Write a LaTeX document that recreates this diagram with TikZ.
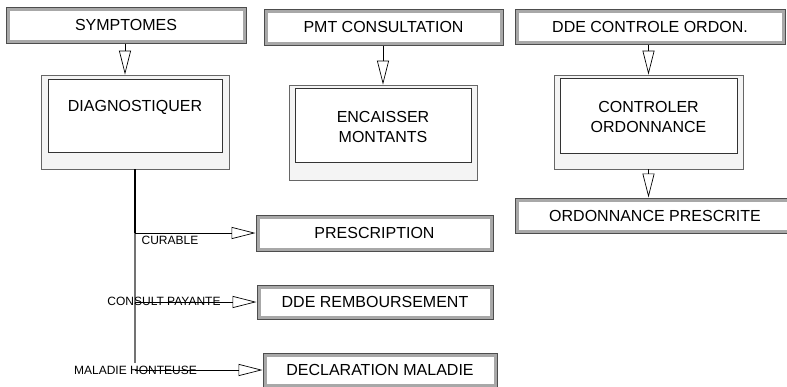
\documentclass[tikz,border=0pt]{standalone}
\usepackage{fontspec}
\setmainfont{Liberation Sans}
\usetikzlibrary{arrows.meta}
\definecolor{evdark}{HTML}{4D4D4D}
\definecolor{evband}{HTML}{A8A8A8}
\definecolor{prfill}{HTML}{F4F4F4}
\definecolor{prline}{HTML}{666666}
\tikzset{
  eventbox/.style={draw=evdark, line width=1pt, fill=evband, inner sep=0pt,
    font=\fontsize{16}{19.5}\selectfont,
    path picture={\fill[white] ([shift={(3.5pt,-3.5pt)}]path picture bounding box.north west) rectangle ([shift={(-3.5pt,3.5pt)}]path picture bounding box.south east);}},
  procouter/.style={draw=prline, line width=0.8pt, fill=prfill, inner sep=0pt},
  procinner/.style={draw=black!80, line width=0.8pt, fill=white, inner sep=0pt},
  boxtext/.style={font=\fontsize{16}{19.5}\selectfont, align=center, inner sep=0pt},
  lbl/.style={font=\fontsize{12}{14}\selectfont, inner sep=0pt},
  arr/.style={draw=black, line width=0.7pt, -{Triangle[open, length=24pt, width=12pt, line width=0.7pt]}}
}
\begin{document}
\begin{tikzpicture}[x=1pt,y=-1pt]
\useasboundingbox (0,0) rectangle (787,386);
\clip (0,0) rectangle (787,386);
% column 1
\node[eventbox, minimum width=240pt, minimum height=36pt] (symp) at (126,25) {SYMPTOMES};
\node[procouter, minimum width=188pt, minimum height=94pt] (diagO) at (135,122) {};
\node[procinner, minimum width=174pt, minimum height=73pt] (diagI) at (135,115.5) {};
\node[boxtext] (diagT) at (135,107) {DIAGNOSTIQUER};
\coordinate (a1) at (125,0);
\draw[arr] (symp.south -| a1) -- (diagO.north -| a1);
% column 2
\node[eventbox, minimum width=239pt, minimum height=36pt] (pmt) at (383.5,27) {PMT CONSULTATION};
\node[procouter, minimum width=188pt, minimum height=95pt] (encO) at (383,132.5) {};
\node[procinner, minimum width=176pt, minimum height=74pt] (encI) at (383,125) {};
\node[boxtext] (encT) at (383,127) {ENCAISSER\\MONTANTS};
\coordinate (a2) at (383,0);
\draw[arr] (pmt.south -| a2) -- (encO.north -| a2);
% column 3
\node[eventbox, minimum width=270pt, minimum height=35pt] (dde) at (650,26.5) {DDE CONTROLE ORDON.};
\node[procouter, minimum width=189pt, minimum height=94pt] (ctlO) at (648.5,122) {};
\node[procinner, minimum width=177pt, minimum height=75pt] (ctlI) at (648.5,115.5) {};
\node[boxtext] (ctlT) at (648.5,117) {CONTROLER\\ORDONNANCE};
\node[eventbox, minimum width=280pt, minimum height=35pt] (ord) at (655,215.5) {ORDONNANCE PRESCRITE};
\coordinate (a3) at (648.5,0);
\draw[arr] (dde.south -| a3) -- (ctlO.north -| a3);
\draw[arr] (ctlO.south -| a3) -- (ord.north -| a3);
% outputs of DIAGNOSTIQUER
\node[eventbox, minimum width=237pt, minimum height=36pt] (presc) at (374.5,233) {PRESCRIPTION};
\node[eventbox, minimum width=236pt, minimum height=34pt] (remb) at (375,302) {DDE REMBOURSEMENT};
\node[eventbox, minimum width=234pt, minimum height=34pt] (decl) at (380,370) {DECLARATION MALADIE};
\coordinate (trunk) at (135,0);
\coordinate (tmid) at (135,233);
\coordinate (tend) at (135,363);
\draw[line width=1.8pt, black] (diagO.south -| trunk) -- (tmid);
\draw[line width=1.2pt, black!55] (tmid) -- (tend);
\node[lbl] (lcur) at (170,240) {CURABLE};
\node[lbl] (lcon) at (164,301) {CONSULT PAYANTE};
\node[lbl] (lmal) at (135.5,370) {MALADIE HONTEUSE};
\draw[arr] (trunk |- presc.west) -- (presc.west);
\draw[arr] (trunk |- remb.west) -- (remb.west);
\draw[arr] (trunk |- decl.west) -- (decl.west);
\end{tikzpicture}
\end{document}
